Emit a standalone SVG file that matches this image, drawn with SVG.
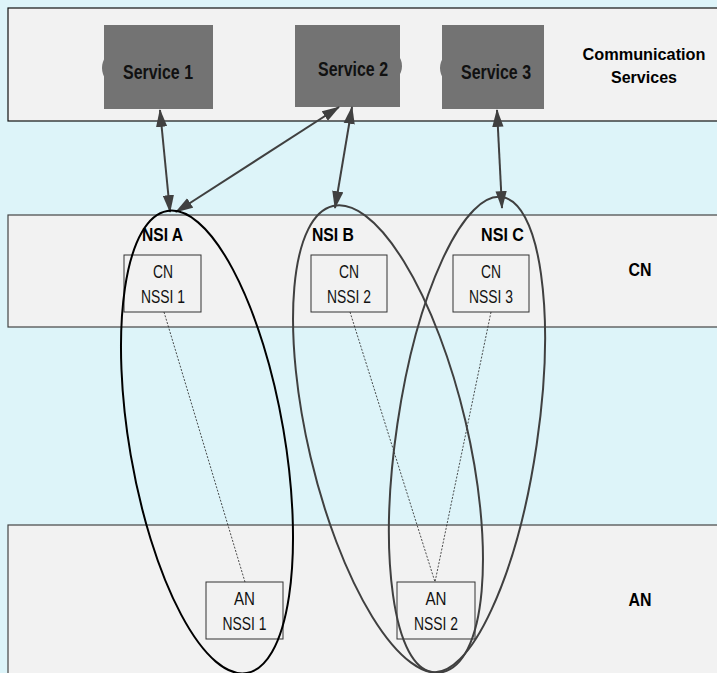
<svg xmlns="http://www.w3.org/2000/svg" width="717" height="673" viewBox="0 0 717 673">
<style>
.band{fill:#f2f2f2;stroke:#444;stroke-width:1.2}
.svc{fill:#737373}
.svct{font-family:"Liberation Sans Narrow","Liberation Sans",Arial,sans-serif;font-weight:bold;font-size:20px;fill:#111;text-anchor:middle}
.lbl{font-family:"Liberation Sans Narrow","Liberation Sans",Arial,sans-serif;font-weight:bold;font-size:18px;fill:#000;text-anchor:middle}
.nssi{fill:#f2f2f2;stroke:#333;stroke-width:1}
.nt{font-family:"Liberation Sans Narrow","Liberation Sans",Arial,sans-serif;font-size:18px;fill:#111;text-anchor:middle}
.arr{stroke:#404040;stroke-width:2;fill:none;marker-start:url(#ah);marker-end:url(#ah)}
.dot{stroke:#222;stroke-width:0.8;stroke-dasharray:2 1.5;fill:none}
.nsi{fill:none;stroke-width:2}
</style>
<defs>
<marker id="ah" viewBox="0 0 16 10" refX="15" refY="5" markerWidth="9" markerHeight="5.8" orient="auto-start-reverse" markerUnits="strokeWidth">
<path d="M0,0 L16,5 L0,10 Z" fill="#404040"/>
</marker>
</defs>
<rect width="717" height="673" fill="#ddf4f9"/>
<g id="band-services"><rect class="band" x="8" y="8" width="715" height="113" style="stroke:#111"/>
<text class="lbl" x="644" y="60" style="font-size:17px" textLength="123" lengthAdjust="spacingAndGlyphs">Communication</text>
<text class="lbl" x="644" y="83" style="font-size:17px" textLength="66" lengthAdjust="spacingAndGlyphs">Services</text></g>
<g id="band-cn"><rect class="band" x="8" y="215" width="715" height="112"/>
<text class="lbl" x="640" y="276" textLength="23" lengthAdjust="spacingAndGlyphs">CN</text></g>
<g id="band-an"><rect class="band" x="8" y="525" width="715" height="160"/>
<text class="lbl" x="640" y="606" textLength="23" lengthAdjust="spacingAndGlyphs">AN</text></g>

<g id="service1"><ellipse class="svc" cx="157" cy="68" rx="55" ry="32"/><rect class="svc" x="104" y="25" width="109" height="84"/>
<text class="svct" x="158" y="79" textLength="70" lengthAdjust="spacingAndGlyphs">Service 1</text></g>
<g id="service2"><ellipse class="svc" cx="349" cy="66" rx="53" ry="30"/><rect class="svc" x="295" y="25" width="105" height="82"/>
<text class="svct" x="353" y="76" textLength="70" lengthAdjust="spacingAndGlyphs">Service 2</text></g>
<g id="service3"><ellipse class="svc" cx="491" cy="68" rx="51" ry="30"/><rect class="svc" x="442" y="25" width="102" height="84"/>
<text class="svct" x="496" y="79" textLength="70" lengthAdjust="spacingAndGlyphs">Service 3</text></g>

<g id="cn-nssi1"><rect class="nssi" x="124" y="255" width="77" height="57"/>
<text class="nt" x="163" y="278" textLength="20" lengthAdjust="spacingAndGlyphs">CN</text><text class="nt" x="163" y="303" textLength="44" lengthAdjust="spacingAndGlyphs">NSSI 1</text></g>
<g id="cn-nssi2"><rect class="nssi" x="311" y="255" width="76" height="57"/>
<text class="nt" x="349" y="278" textLength="20" lengthAdjust="spacingAndGlyphs">CN</text><text class="nt" x="349" y="303" textLength="44" lengthAdjust="spacingAndGlyphs">NSSI 2</text></g>
<g id="cn-nssi3"><rect class="nssi" x="453" y="255" width="76" height="57"/>
<text class="nt" x="491" y="278" textLength="20" lengthAdjust="spacingAndGlyphs">CN</text><text class="nt" x="491" y="303" textLength="44" lengthAdjust="spacingAndGlyphs">NSSI 3</text></g>
<g id="an-nssi1"><rect class="nssi" x="206" y="582" width="77" height="57"/>
<text class="nt" x="244.5" y="605" textLength="21" lengthAdjust="spacingAndGlyphs">AN</text><text class="nt" x="244.5" y="630" textLength="44" lengthAdjust="spacingAndGlyphs">NSSI 1</text></g>
<g id="an-nssi2"><rect class="nssi" x="397" y="582" width="78" height="57"/>
<text class="nt" x="436" y="605" textLength="21" lengthAdjust="spacingAndGlyphs">AN</text><text class="nt" x="436" y="630" textLength="44" lengthAdjust="spacingAndGlyphs">NSSI 2</text></g>

<g id="connectors">
<line class="dot" x1="164" y1="312" x2="245" y2="582"/>
<line class="dot" x1="350" y1="312" x2="435" y2="582"/>
<line class="dot" x1="491" y1="312" x2="435" y2="582"/>
<line class="arr" x1="160" y1="110" x2="170" y2="212"/>
<line class="arr" x1="339" y1="107" x2="176" y2="212"/>
<line class="arr" x1="352" y1="107" x2="335" y2="208"/>
<line class="arr" x1="497" y1="110" x2="502" y2="208"/>
</g>

<g id="nsi-a"><ellipse class="nsi" stroke="#000" cx="207" cy="442" rx="77.4" ry="234.4" transform="rotate(-9.76 207 442)"/>
<text class="lbl" x="162.5" y="241" textLength="41" lengthAdjust="spacingAndGlyphs">NSI A</text></g>
<g id="nsi-b"><ellipse class="nsi" stroke="#404040" cx="388" cy="439" rx="79.5" ry="239.4" transform="rotate(-13.3 388 439)"/>
<text class="lbl" x="333" y="241" textLength="42" lengthAdjust="spacingAndGlyphs">NSI B</text></g>
<g id="nsi-c"><ellipse class="nsi" stroke="#404040" cx="467" cy="434.5" rx="70.4" ry="240" transform="rotate(8.38 467 434.5)"/>
<text class="lbl" x="502.5" y="241" textLength="43" lengthAdjust="spacingAndGlyphs">NSI C</text></g>
</svg>
